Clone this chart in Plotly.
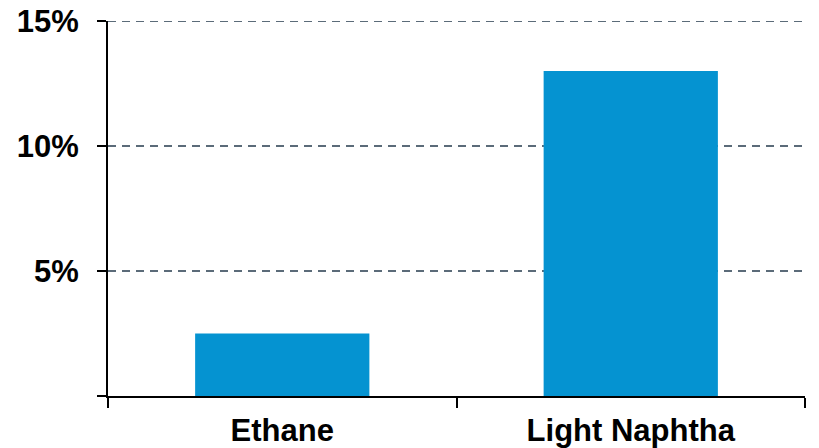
import plotly.graph_objects as go

# Feedstock categories and their share values (%)
categories = ["Ethane", "Light Naphtha"]
values = [2.5, 13.0]

# Y-axis ticks
y_tickvals = [0, 5, 10, 15]
y_ticktext = ["", "5%", "10%", "15%"]

font_main = dict(family="Liberation Sans, Arial, sans-serif", size=31, color="#000000", weight="bold")
grid_color = "#5b6b79"

fig = go.Figure(
    go.Bar(
        x=categories,
        y=values,
        marker=dict(color="#0593d1", line=dict(width=0)),
        width=0.5,
    )
)

fig.update_layout(
    width=819,
    height=448,
    margin=dict(l=108, r=14, t=21, b=52),
    plot_bgcolor="#ffffff",
    paper_bgcolor="#ffffff",
    showlegend=False,
    font=font_main,
)

fig.update_xaxes(
    type="category",
    automargin=False,
    showline=True,
    linecolor="#000000",
    linewidth=1.5,
    ticks="outside",
    tickson="boundaries",
    ticklen=10,
    tickwidth=1.5,
    tickcolor="#000000",
    showgrid=False,
    tickfont=font_main,
    ticklabelstandoff=6,
)

fig.update_yaxes(
    range=[0, 15],
    automargin=False,
    tickvals=y_tickvals,
    ticktext=y_ticktext,
    showline=True,
    linecolor="#000000",
    linewidth=2,
    ticks="outside",
    ticklen=9,
    tickwidth=2,
    tickcolor="#000000",
    showgrid=True,
    gridcolor=grid_color,
    gridwidth=2,
    griddash="8px,6px",
    zeroline=False,
    tickfont=font_main,
    ticklabelstandoff=12,
)

# Gridline at the top tick, which sits on the plot edge
fig.add_shape(
    type="line",
    xref="paper", yref="y",
    x0=0, x1=0.996, y0=y_tickvals[-1], y1=y_tickvals[-1],
    line=dict(color=grid_color, width=2, dash="8px,6px"),
    layer="below",
)

fig.write_html("out.html")
